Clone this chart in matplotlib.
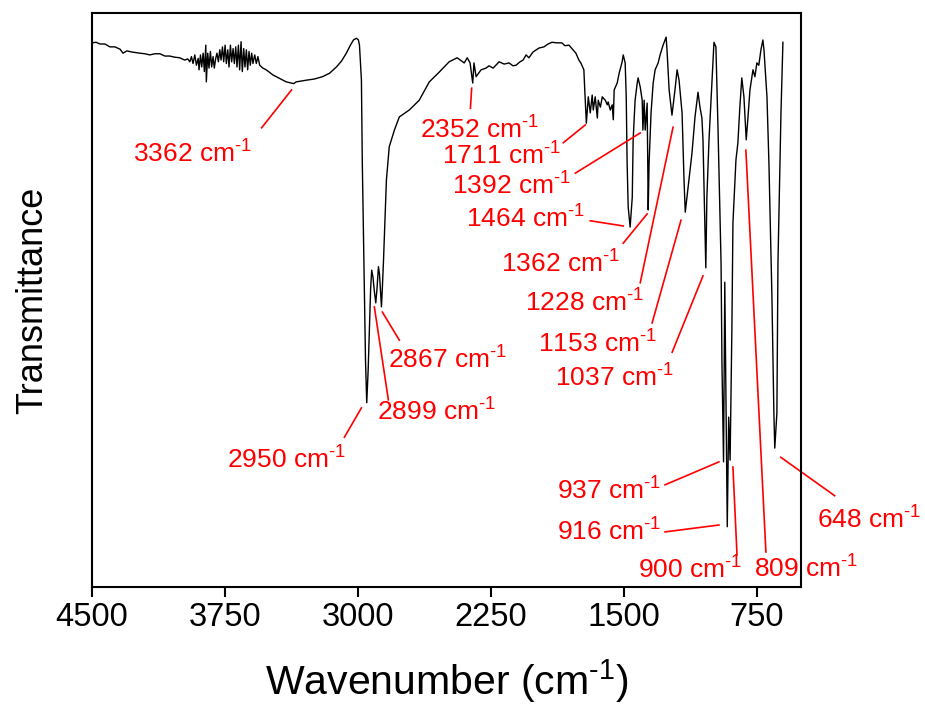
import matplotlib
matplotlib.use("Agg")
import matplotlib.pyplot as plt

plt.rcParams["font.family"] = ["Liberation Sans", "DejaVu Sans"]
plt.rcParams["mathtext.fontset"] = "custom"
plt.rcParams["mathtext.rm"] = "Liberation Sans"
plt.rcParams["mathtext.it"] = "Liberation Sans"
plt.rcParams["mathtext.default"] = "regular"

# FTIR spectrum: wavenumber (cm-1) and transmittance (arbitrary units)
wavenumber = [
    4500, 4477, 4455, 4427, 4399, 4371, 4342, 4325, 4303, 4275, 4230, 4202,
    4174, 4145, 4117, 4089, 4061, 4033, 4005, 3977, 3960,
    3948, 3939, 3930, 3920, 3911, 3901, 3896, 3888, 3881, 3873, 3866, 3858,
    3855, 3847, 3840, 3832, 3825, 3817, 3810, 3802, 3795, 3787, 3779, 3772,
    3764, 3757, 3749, 3742, 3734, 3727, 3719, 3712, 3704, 3697, 3689, 3682,
    3674, 3667, 3659, 3652, 3644, 3637, 3629, 3622, 3614, 3607, 3599, 3592,
    3582, 3573, 3564, 3554, 3536, 3517, 3479, 3442, 3404, 3362, 3348,
    3290, 3245, 3200, 3160, 3121, 3093, 3065, 3042, 3025, 3008, 2997, 2991,
    2980, 2975, 2963, 2957, 2950, 2942, 2935, 2928, 2922, 2915, 2907, 2899,
    2892, 2884, 2878, 2872, 2867, 2862, 2856, 2839, 2823, 2794, 2766, 2710,
    2654, 2597, 2541, 2485, 2440, 2400, 2383, 2367, 2352, 2345, 2333, 2305,
    2277, 2260, 2237, 2203, 2175, 2147, 2125, 2108, 2085, 2068, 2051, 2035,
    2012, 1978, 1950, 1927, 1905, 1877, 1849, 1832, 1809, 1787, 1770, 1753,
    1742, 1725, 1720, 1711,
    1700, 1689, 1678, 1672, 1661, 1649, 1644, 1632, 1621, 1616, 1604, 1593,
    1588, 1576, 1565, 1559, 1554, 1537, 1526, 1509, 1503, 1492, 1486, 1481,
    1475, 1464, 1452, 1447, 1436, 1424, 1419, 1407, 1396, 1392, 1385, 1379,
    1368, 1362, 1357, 1346, 1334, 1323, 1306, 1295, 1278, 1261, 1256, 1244,
    1228, 1211, 1199, 1188, 1171, 1160, 1153, 1137, 1115, 1098, 1081, 1070,
    1059, 1053, 1042, 1037, 1031, 1019, 1002, 991, 980, 968, 951, 946,
    937, 930, 916, 908, 900, 890, 884, 867, 856, 845, 834, 822,
    809, 799, 788, 771, 760, 749, 738, 726, 715, 709, 692, 681,
    664, 653, 648, 636, 630, 613, 602,
]
transmittance = [
    94.8, 94.9, 94.6, 94.6, 94.1, 94.1, 93.7, 93.0, 93.4, 93.2, 93.0, 92.9,
    92.7, 92.9, 92.9, 92.5, 92.5, 92.3, 92.2, 91.8, 92.0,
    91.5, 92.4, 91.2, 92.7, 90.9, 92.1, 90.1, 92.7, 90.6, 93.0, 89.8, 94.4,
    88.0, 93.0, 90.4, 93.3, 90.6, 92.4, 90.4, 92.1, 93.0, 91.5, 93.6, 91.8,
    94.1, 91.5, 94.4, 91.2, 93.6, 90.6, 94.4, 91.5, 93.8, 91.2, 94.1, 90.6,
    94.4, 90.1, 95.0, 89.8, 93.8, 90.6, 93.6, 90.1, 93.3, 90.9, 93.0, 91.2,
    92.7, 91.2, 92.4, 90.9, 90.4, 90.1, 89.2, 88.6, 88.0, 87.7, 88.0,
    88.3, 88.5, 88.9, 89.5, 90.6, 91.6, 93.0, 94.4, 95.3, 95.6, 95.3, 94.4,
    88.3, 73.9, 50.5, 39.5, 32.1, 37.8, 44.8, 52.0, 55.2, 54.0, 51.5, 49.5,
    52.0, 55.8, 54.5, 51.5, 48.8, 52.0, 56.4, 70.9, 76.7, 79.6, 81.9, 83.1,
    84.8, 88.0, 89.7, 91.5, 92.2, 91.3, 92.2, 91.3, 87.8, 91.3, 88.9, 90.1,
    90.4, 90.8, 90.4, 91.5, 91.1, 91.3, 90.8, 90.9, 91.5, 91.8, 92.7, 92.2,
    93.2, 93.9, 94.1, 94.6, 94.9, 94.8, 94.8, 94.3, 94.4, 93.6, 93.0, 91.8,
    91.3, 90.1, 86.6, 80.8,
    85.4, 82.6, 85.7, 83.1, 85.4, 81.7, 84.8, 83.6, 85.4, 85.2, 84.8, 84.0,
    84.5, 83.1, 84.0, 81.4, 86.6, 87.8, 89.5, 91.5, 92.7, 91.3, 85.4, 73.9,
    66.2, 62.7, 67.9, 77.9, 84.8, 87.8, 88.7, 87.1, 84.8, 79.6, 84.8, 79.6,
    84.3, 65.7, 73.9, 82.6, 87.8, 90.1, 91.3, 92.7, 94.4, 95.8, 93.6, 86.6,
    82.2, 86.6, 90.1, 88.3, 82.6, 70.9, 65.3, 69.7, 75.6, 81.9, 86.2, 83.6,
    81.7, 77.9, 62.2, 55.6, 67.9, 77.9, 88.3, 94.9, 94.1, 79.6, 56.4, 39.0,
    21.8, 53.1, 10.5, 29.6, 22.1, 44.8, 63.4, 74.4, 77.4, 83.6, 88.7, 85.4,
    77.9, 81.9, 86.6, 90.1, 88.9, 91.3, 90.9, 93.6, 95.3, 93.6, 85.4, 73.9,
    50.5, 30.3, 24.2, 30.3, 56.4, 82.6, 94.9,
]

# Assigned band positions (cm-1)
band_values = [3362, 2950, 2899, 2867, 2352, 1711, 1392, 1464, 1362,
               1228, 1153, 1037, 937, 916, 900, 809, 648]

# Label layout: text centre, leader line start and end (data coordinates)
label_text_xy = [
    (3934, 75.4), (3405, 22.1), (2558, 30.5), (2493, 39.5), (2313, 79.6),
    (2192, 75.1), (2131, 69.9), (2055, 64.1), (1858, 56.3), (1720, 49.5),
    (1649, 42.3), (1554, 36.4), (1585, 16.7), (1582, 9.6), (1126, 3.0),
    (470, 3.1), (115, 11.7),
]
leader_lines = [
    ((3543, 80.0), (3374, 86.6)),
    ((3076, 26.1), (2980, 31.2)),
    ((2828, 32.6), (2907, 48.8)),
    ((2766, 43.0), (2862, 47.9)),
    ((2365, 83.4), (2358, 86.9)),
    ((1841, 77.4), (1717, 80.5)),
    ((1773, 72.1), (1407, 79.1)),
    ((1689, 63.8), (1503, 62.9)),
    ((1503, 59.9), (1368, 65.0)),
    ((1407, 53.0), (1222, 80.1)),
    ((1340, 46.0), (1177, 63.9)),
    ((1227, 40.9), (1053, 54.2)),
    ((1267, 17.8), (963, 21.8)),
    ((1267, 9.6), (963, 10.8)),
    ((861, 5.6), (884, 20.9)),
    ((698, 6.1), (811, 76.1)),
    ((310, 15.9), (614, 22.6)),
]

x_ticks = [4500, 3750, 3000, 2250, 1500, 750]

UNIT = r"cm$^{\text{-1}}$"

fig = plt.figure(figsize=(9.25, 7.07), dpi=100)
ax = fig.add_axes([92 / 925, 1 - 587 / 707, (801 - 92) / 925, (587 - 13) / 707])

ax.plot(wavenumber, transmittance, color="black", lw=1.0)

for value, (tx, ty), ((x0, y0), (x1, y1)) in zip(band_values, label_text_xy, leader_lines):
    ax.plot([x0, x1], [y0, y1], color="red", lw=1.2, clip_on=False)
    ax.text(tx, ty, f"{value} {UNIT}", color="red", fontsize=19,
            ha="center", va="center", clip_on=False)

ax.set_xlim(4500, 500)
ax.set_ylim(0, 100)
ax.set_xticks(x_ticks)
ax.set_xticklabels([str(t) for t in x_ticks])
ax.set_yticks([])
ax.tick_params(axis="x", direction="out", length=7, width=1.5, labelsize=23.5, pad=4)
for spine in ax.spines.values():
    spine.set_linewidth(1.5)

ax.set_xlabel(f"Wavenumber ({UNIT})", fontsize=29.5, labelpad=17)
ax.set_ylabel("Transmittance", fontsize=26, labelpad=30)

fig.savefig("out.png", dpi=100)
